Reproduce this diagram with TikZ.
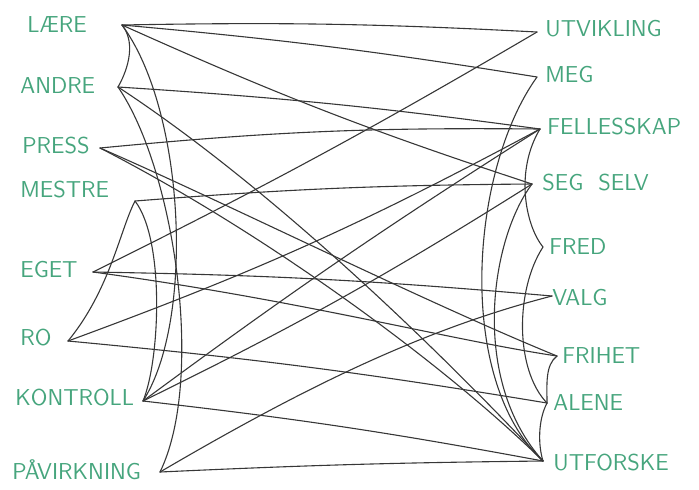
\documentclass[tikz,border=0pt]{standalone}
\usepackage{tikz}
\definecolor{penink}{RGB}{70,165,125}
\definecolor{pencil}{RGB}{55,55,55}

\begin{document}
\begin{tikzpicture}[x=0.5pt,y=-0.5pt,
		word/.style={text=penink, font=\sffamily\fontsize{11.5}{13}\selectfont, inner sep=0pt},
		lword/.style={word, anchor=west},
		rword/.style={word, anchor=west},
		link/.style={draw=pencil, line width=0.55pt, line cap=round}]
		\useasboundingbox (0,0) rectangle (699,489);

		% left words
		\node[lword] (lare-t) at (27,25) {LÆRE};
		\node[lword] (andre-t) at (20,86) {ANDRE};
		\node[lword] (press-t) at (22,146) {PRESS};
		\node[lword] (mestre-t) at (20,190) {MESTRE};
		\node[lword] (eget-t) at (20,270) {EGET};
		\node[lword] (ro-t) at (20,338) {RO};
		\node[lword] (kontroll-t) at (15,398) {KONTROLL};
		\node[lword] (pavirkning-t) at (12,470) {PÅVIRKNING};

		% right words
		\node[rword] (utvikling-t) at (545,29) {UTVIKLING};
		\node[rword] (meg-t) at (545,75) {MEG};
		\node[rword] (fellesskap-t) at (547,127) {FELLESSKAP};
		\node[rword] (segselv-t) at (542,183) {SEG\ \ SELV};
		\node[rword] (fred-t) at (549,247) {FRED};
		\node[rword] (valg-t) at (552,298) {VALG};
		\node[rword] (frihet-t) at (562,356) {FRIHET};
		\node[rword] (alene-t) at (553,403) {ALENE};
		\node[rword] (utforske-t) at (553,463) {UTFORSKE};

		% where the pencil lines meet
		\coordinate (lare) at (122,25);
		\coordinate (andre) at (118,87);
		\coordinate (press) at (100,148);
		\coordinate (mestre) at (135,201);
		\coordinate (eget) at (93,272);
		\coordinate (ro) at (68,341);
		\coordinate (kontroll) at (143,401);
		\coordinate (pavirkning) at (160,472);
		\coordinate (utvikling) at (537,32);
		\coordinate (meg) at (537,77);
		\coordinate (fellesskap) at (540,129);
		\coordinate (segselv) at (532,184);
		\coordinate (fred) at (543,247);
		\coordinate (valg) at (552,296);
		\coordinate (frihet) at (557,356);
		\coordinate (alene) at (547,403);
		\coordinate (utforske) at (543,461);

		% left to right
		\draw[link] (lare) to[bend left=2] (utvikling);
		\draw[link] (lare) to[bend left=2] (meg);
		\draw[link] (lare) to[bend right=3] (segselv);
		\draw[link] (andre) to[bend left=2] (fellesskap);
		\draw[link] (andre) .. controls (260,180) and (420,330) .. (utforske);
		\draw[link] (press) to[bend left=3] (fellesskap);
		\draw[link] (press) .. controls (220,200) and (420,300) .. (frihet);
		\draw[link] (press) .. controls (260,230) and (440,360) .. (utforske);
		\draw[link] (mestre) to[bend left=2] (segselv);
		\draw[link] (eget) to[bend right=2] (utvikling);
		\draw[link] (eget) to[bend left=2] (valg);
		\draw[link] (eget) .. controls (300,300) and (450,340) .. (frihet);
		\draw[link] (ro) to[bend left=2] (alene);
		\draw[link] (ro) to[bend right=4] (fellesskap);
		\draw[link] (kontroll) to[bend right=3] (segselv);
		\draw[link] (kontroll) to[bend left=2] (fellesskap);
		\draw[link] (kontroll) to[bend left=2] (utforske);
		\draw[link] (pavirkning) .. controls (300,390) and (420,330) .. (valg);
		\draw[link] (pavirkning) to[bend left=1] (utforske);

		% curves down the left side
		\draw[link] (lare) .. controls (138,45) and (125,75) .. (andre);
		\draw[link] (lare) .. controls (185,110) and (195,320) .. (kontroll);
		\draw[link] (andre) .. controls (175,170) and (205,380) .. (pavirkning);
		\draw[link] (mestre) .. controls (165,240) and (160,360) .. (kontroll);
		\draw[link] (mestre) .. controls (120,230) and (110,290) .. (ro);

		% curves down the right side
		\draw[link] (meg) .. controls (470,170) and (455,380) .. (utforske);
		\draw[link] (segselv) .. controls (490,240) and (470,380) .. (utforske);
		\draw[link] (fellesskap) .. controls (515,170) and (525,225) .. (fred);
		\draw[link] (fred) .. controls (515,290) and (515,370) .. (alene);
		\draw[link] (frihet) .. controls (545,365) and (547,385) .. (alene);
		\draw[link] (alene) .. controls (538,420) and (538,445) .. (utforske);

		\end{tikzpicture}
\end{document}
